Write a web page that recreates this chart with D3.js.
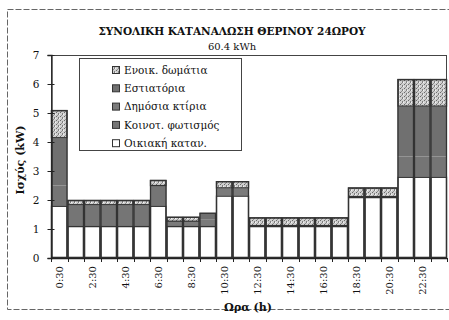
<!DOCTYPE html>
<html>
<head>
<meta charset="utf-8">
<script src="https://cdn.jsdelivr.net/npm/d3@7/dist/d3.min.js"></script>
<style>
  html, body { margin: 0; padding: 0; background: #fff; }
  svg text { font-family: "DejaVu Serif", serif; }
</style>
</head>
<body>
<svg id="chart" width="449" height="320"></svg>
<script>
// Hourly time slots (half-hour mid-points)
const hours = ["0:30","1:30","2:30","3:30","4:30","5:30","6:30","7:30","8:30","9:30","10:30","11:30",
               "12:30","13:30","14:30","15:30","16:30","17:30","18:30","19:30","20:30","21:30","22:30","23:30"];

// Load per consumer group (kW), bottom of stack first
const household  = [1.8,1.1,1.1,1.1,1.1,1.1,1.8,1.1,1.1,1.1,2.15,2.15,1.1,1.1,1.1,1.1,1.1,1.1,2.1,2.1,2.1,2.8,2.8,2.8];
const lighting   = [0.7,0.72,0.72,0.72,0.72,0.72,0.68,0,0,0,0,0,0,0,0,0,0,0,0,0,0,0.7,0.7,0.7];
const publicBldg = [0,0,0,0,0,0,0,0.15,0.15,0.22,0.25,0.25,0,0,0,0,0,0,0,0,0,0,0,0];
const restaurants= [1.63,0,0,0,0,0,0,0,0,0.24,0,0,0,0,0,0,0,0,0,0,0,1.72,1.72,1.72];
const rooms      = [0.97,0.18,0.18,0.18,0.18,0.18,0.21,0.17,0.17,0,0.25,0.25,0.3,0.3,0.3,0.3,0.3,0.3,0.33,0.33,0.33,0.95,0.95,0.95];

const seriesKeys  = ["household","lighting","publicBldg","restaurants","rooms"];
const seriesNames = ["Οικιακή καταν.","Κοινοτ. φωτισμός","Δημόσια κτίρια","Εστιατόρια","Ενοικ. δωμάτια"];
const seriesData  = [household, lighting, publicBldg, restaurants, rooms];

const yTicks = [0,1,2,3,4,5,6,7];
const xLabelHours = hours.filter((h, i) => i % 2 === 0);

const title = "ΣΥΝΟΛΙΚΗ ΚΑΤΑΝΑΛΩΣΗ ΘΕΡΙΝΟΥ 24ΩΡΟΥ";
const subtitle = "60.4 kWh";

const SERIF = "DejaVu Serif";

const rows = hours.map((h, i) => {
  const r = { hour: h };
  seriesKeys.forEach((k, j) => r[k] = seriesData[j][i]);
  r.total = seriesKeys.reduce((s, k) => s + r[k], 0);
  return r;
});

const svg = d3.select("#chart");
const defs = svg.append("defs");

// speckled fill for the rented-rooms series
const pat = defs.append("pattern").attr("id", "speckle")
  .attr("patternUnits", "userSpaceOnUse").attr("width", 4).attr("height", 4);
pat.append("rect").attr("width", 4).attr("height", 4).attr("fill", "#cfcfcf");
pat.append("rect").attr("x", 0).attr("y", 0).attr("width", 1).attr("height", 1).attr("fill", "#6a6a6a");
pat.append("rect").attr("x", 2).attr("y", 1).attr("width", 1).attr("height", 2).attr("fill", "#808080");
pat.append("rect").attr("x", 1).attr("y", 3).attr("width", 1).attr("height", 1).attr("fill", "#909090");
pat.append("rect").attr("x", 3).attr("y", 2).attr("width", 1).attr("height", 1).attr("fill", "#f4f4f4");

const fills = {
  household: "#ffffff",
  lighting: "#757575",
  publicBldg: "#7b7b7b",
  restaurants: "#707070",
  rooms: "url(#speckle)"
};
// outlined segments; the grey ones blend into each other
const outlined = { household: true, rooms: true };

// outer frame of the chart
svg.append("rect")
  .attr("x", 7.5).attr("y", 9.5).attr("width", 460).attr("height", 300)
  .attr("fill", "none").attr("stroke", "#666").attr("stroke-width", 1)
  .attr("stroke-dasharray", "6,2");

const plotLeft = 51, plotRight = 447, plotTop = 55, plotBottom = 258;

const x = d3.scaleBand().domain(hours).range([plotLeft, plotRight]).padding(0);
const y = d3.scaleLinear().domain([0, 7]).range([plotBottom, plotTop]);

// plot area border
svg.append("rect")
  .attr("x", plotLeft + 0.5).attr("y", plotTop + 0.5)
  .attr("width", plotRight - plotLeft - 1).attr("height", plotBottom - plotTop)
  .attr("fill", "none").attr("stroke", "#444").attr("stroke-width", 1);

const stack = d3.stack().keys(seriesKeys);
const layers = stack(rows);

const barsG = svg.append("g");
// grey segments first, without outline
barsG.selectAll("g.grey")
  .data(layers.filter(l => !outlined[l.key])).join("g")
  .attr("class", "grey")
  .attr("fill", d => fills[d.key])
  .selectAll("rect")
  .data(d => d.filter(p => p[1] - p[0] > 0))
  .join("rect")
  .attr("x", d => x(d.data.hour))
  .attr("width", x.bandwidth())
  .attr("y", d => y(d[1]))
  .attr("height", d => y(d[0]) - y(d[1]));

// white and speckled segments with dark outline
barsG.selectAll("g.lined")
  .data(layers.filter(l => outlined[l.key])).join("g")
  .attr("class", "lined")
  .attr("fill", d => fills[d.key])
  .selectAll("rect")
  .data(d => d.filter(p => p[1] - p[0] > 0))
  .join("rect")
  .attr("x", d => x(d.data.hour) + 0.5)
  .attr("width", x.bandwidth() - 1)
  .attr("y", d => y(d[1]) + 0.5)
  .attr("height", d => Math.max(0, y(d[0]) - y(d[1]) - 1))
  .attr("stroke", "#333")
  .attr("stroke-width", 1.3);

// outline of each whole bar
barsG.append("g").selectAll("rect")
  .data(rows).join("rect")
  .attr("x", d => x(d.hour) + 0.5)
  .attr("width", x.bandwidth() - 1)
  .attr("y", d => y(d.total) + 0.5)
  .attr("height", d => y(0) - y(d.total) - 1)
  .attr("fill", "none").attr("stroke", "#333").attr("stroke-width", 1.3);

// y axis
const yAxis = d3.axisLeft(y).tickValues(yTicks).tickSize(4).tickFormat(d3.format("d"));
const gy = svg.append("g").attr("transform", `translate(${plotLeft + 0.5},0)`).call(yAxis)
  .attr("font-family", SERIF);
gy.select(".domain").attr("stroke", "#222").attr("stroke-width", 1.3);
gy.selectAll(".tick line").attr("x2", -4).attr("x1", 3).attr("stroke", "#222");
gy.selectAll(".tick text").attr("x", -12).attr("font-size", 10.5)
  .attr("font-family", SERIF).attr("fill", "#111");

// x baseline and tick marks at slot boundaries
svg.append("line")
  .attr("x1", plotLeft).attr("x2", plotRight).attr("y1", plotBottom + 0.5).attr("y2", plotBottom + 0.5)
  .attr("stroke", "#222").attr("stroke-width", 1.3);
const edges = hours.map(h => x(h)).concat([x(hours[hours.length - 1]) + x.bandwidth()]);
svg.append("g").selectAll("line").data(edges).join("line")
  .attr("x1", d => Math.round(d) + 0.5).attr("x2", d => Math.round(d) + 0.5)
  .attr("y1", plotBottom).attr("y2", plotBottom + 4)
  .attr("stroke", "#222");

// x tick labels (rotated)
const xAxis = d3.axisBottom(x).tickValues(xLabelHours).tickSize(0);
const gx = svg.append("g").attr("transform", `translate(0,${plotBottom})`).call(xAxis)
  .attr("font-family", SERIF);
gx.select(".domain").remove();
gx.selectAll(".tick text")
  .attr("font-size", 10).attr("font-family", SERIF).attr("fill", "#111")
  .attr("text-anchor", "end")
  .attr("transform", "translate(0,8) rotate(-90)")
  .attr("x", 0).attr("y", 0).attr("dy", "0.35em");

// titles
svg.append("text").attr("x", 232).attr("y", 35)
  .attr("text-anchor", "middle").attr("font-size", 10.5).attr("font-weight", "bold")
  .attr("font-family", SERIF).attr("fill", "#111").text(title);
svg.append("text").attr("x", 232).attr("y", 50)
  .attr("text-anchor", "middle").attr("font-size", 10)
  .attr("font-family", SERIF).attr("fill", "#111").text(subtitle);

svg.append("text").attr("x", 248).attr("y", 311)
  .attr("text-anchor", "middle").attr("font-size", 11).attr("font-weight", "bold")
  .attr("font-family", SERIF).attr("fill", "#111").text("Ωρα (h)");

svg.append("text")
  .attr("transform", "translate(24,160) rotate(-90)")
  .attr("text-anchor", "middle").attr("font-size", 11).attr("font-weight", "bold")
  .attr("font-family", SERIF).attr("fill", "#111").text("Ισχύς (kW)");

// legend, top series first
const legend = svg.append("g");
legend.append("rect")
  .attr("x", 79.5).attr("y", 58.5).attr("width", 162).attr("height", 92)
  .attr("fill", "#fff").attr("stroke", "#444").attr("stroke-width", 1);
const legendOrder = seriesKeys.map((k, i) => ({ key: k, name: seriesNames[i] })).reverse();
const li = legend.selectAll("g.item").data(legendOrder).join("g")
  .attr("class", "item")
  .attr("transform", (d, i) => `translate(112,${70 + i * 18.3})`);
li.append("rect").attr("x", 0.5).attr("y", -3.5).attr("width", 7).attr("height", 7)
  .attr("fill", d => fills[d.key]).attr("stroke", "#333");
li.append("text").attr("x", 12).attr("y", 0).attr("dy", "0.35em")
  .attr("font-size", 10.5).attr("font-family", SERIF).attr("fill", "#111").text(d => d.name);
</script>
</body>
</html>
